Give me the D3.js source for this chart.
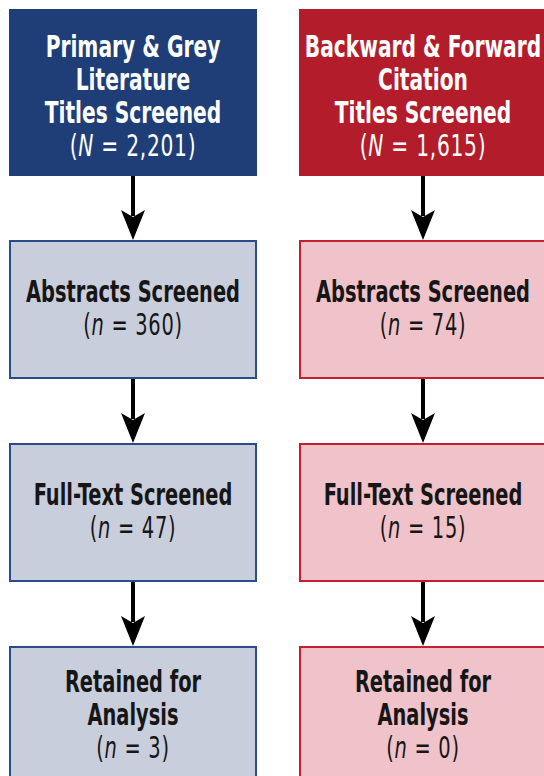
<!DOCTYPE html>
<meta charset="utf-8">
<style>
    html,
    body {
        margin: 0;
        background: #fff;
    }

    .label {
        font-family: "Liberation Sans Narrow", "Arial Narrow", "DejaVu Sans Condensed", sans-serif;
        text-anchor: middle;
    }

    .title {
        font-weight: bold;
    }

    .count {
        font-weight: normal;
        letter-spacing: 1px;
    }
</style>

<body>
    <script src="https://d3js.org/d3.v7.min.js"></script>
    <script>

        // the two search streams (columns)
        var sources = ["primary", "citation"];

        // stage titles, one list of lines per row
        var primaryTitles = [
            ["Primary & Grey", "Literature", "Titles Screened"],
            ["Abstracts Screened"],
            ["Full-Text Screened"],
            ["Retained for", "Analysis"]
        ];
        var citationTitles = [
            ["Backward & Forward", "Citation", "Titles Screened"],
            ["Abstracts Screened"],
            ["Full-Text Screened"],
            ["Retained for", "Analysis"]
        ];

        // counts at each stage
        var primaryCounts = [2201, 360, 47, 3];
        var citationCounts = [1615, 74, 15, 0];

        var width = 544,
            height = 776;

        var colors = {
            primary: { head: "#1f3e78", fill: "#c9cedc", stroke: "#2c4b8a" },
            citation: { head: "#b31d2b", fill: "#efc3c9", stroke: "#c3202f" }
        };

        var x = d3.scaleBand()
            .domain(sources)
            .range([9, 547])
            .paddingInner(42 / 290);

        // row layout: first box is taller
        var rowHeights = [167, 139, 139, 140],
            gap = 64,
            rowTop = [];
        rowHeights.reduce(function (acc, h) { rowTop.push(acc); return acc + h + gap; }, 9);

        var fmt = d3.format(",");

        var nodes = [];
        sources.forEach(function (s) {
            var titles = s === "primary" ? primaryTitles : citationTitles;
            var counts = s === "primary" ? primaryCounts : citationCounts;
            counts.forEach(function (c, i) {
                nodes.push({ source: s, stage: i, lines: titles[i], count: c });
            });
        });

        var svg = d3.select("body").append("svg")
            .attr("width", width)
            .attr("height", height);

        // arrows between consecutive stages
        var links = nodes.filter(function (d) { return d.stage < 3; });
        var cxOf = function (d) { return x(d.source) + x.bandwidth() / 2; };

        svg.selectAll(".arrow")
            .data(links)
            .enter().append("line")
            .attr("class", "arrow")
            .attr("x1", cxOf)
            .attr("x2", cxOf)
            .attr("y1", function (d) { return rowTop[d.stage] + rowHeights[d.stage]; })
            .attr("y2", function (d) { return rowTop[d.stage + 1] - 24; })
            .attr("stroke", "#000")
            .attr("stroke-width", 4);

        svg.selectAll(".tip")
            .data(links)
            .enter().append("path")
            .attr("class", "tip")
            .attr("transform", function (d) {
                return "translate(" + cxOf(d) + "," + (rowTop[d.stage + 1] - 30) + ")";
            })
            .attr("d", "M-12,0 L0,7 L12,0 L0,30 Z")
            .attr("fill", "#000");

        var box = svg.selectAll(".box")
            .data(nodes)
            .enter().append("g")
            .attr("class", "box")
            .attr("transform", function (d) { return "translate(" + x(d.source) + "," + rowTop[d.stage] + ")"; });

        box.append("rect")
            .attr("x", 1)
            .attr("y", 1)
            .attr("width", x.bandwidth() - 2)
            .attr("height", function (d) { return rowHeights[d.stage] - 2; })
            .attr("fill", function (d) { return d.stage === 0 ? colors[d.source].head : colors[d.source].fill; })
            .attr("stroke", function (d) { return d.stage === 0 ? colors[d.source].head : colors[d.source].stroke; })
            .attr("stroke-width", 2);

        // condensed look: squeeze the text horizontally
        var lineH = 33;

        var text = box.append("text")
            .attr("class", "label")
            .attr("transform", function (d) {
                return "translate(" + (x.bandwidth() / 2) + ",0) scale(" + (d.stage === 0 ? 0.725 : 0.72) + ",1)";
            })
            .attr("fill", function (d) { return d.stage === 0 ? "#fff" : "#161616"; })
            .style("font-size", function (d) { return d.stage === 0 ? "31px" : "30px"; });

        text.each(function (d) {
            var t = d3.select(this),
                n = d.lines.length + 1,
                cy = rowHeights[d.stage] / 2 + (d.stage === 0 ? 14 : 9);
            d.lines.forEach(function (l, i) {
                t.append("tspan")
                    .attr("class", "title")
                    .attr("x", 0)
                    .attr("y", cy + (i - (n - 1) / 2) * lineH)
                    .text(l);
            });
            t.append("tspan")
                .attr("class", "count")
                .attr("x", 0)
                .attr("y", cy + ((n - 1) / 2) * lineH)
                .text("(");
            t.append("tspan").attr("class", "count").style("font-style", "italic")
                .text(d.stage === 0 ? "N" : "n");
            t.append("tspan").attr("class", "count").text(" = " + fmt(d.count) + ")");
        });

    </script>
</body>

</html>
